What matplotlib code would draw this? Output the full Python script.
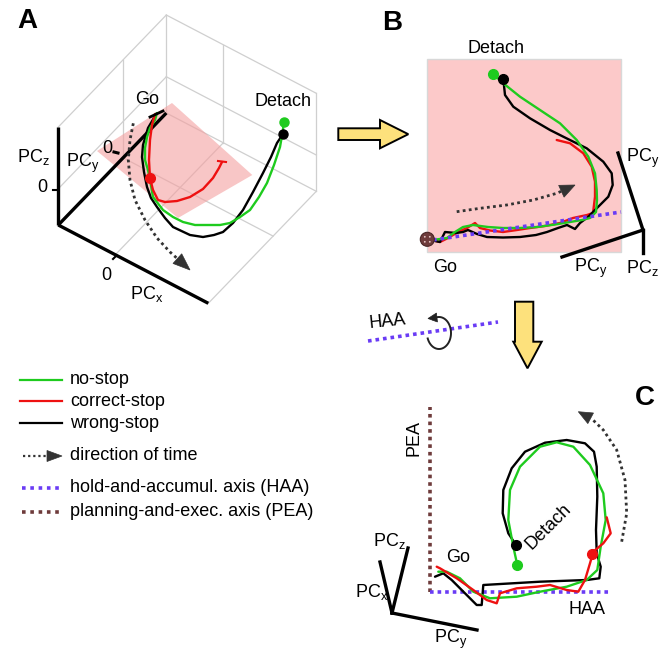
import numpy as np
import matplotlib
matplotlib.use('Agg')
import matplotlib.pyplot as plt
from matplotlib.patches import Polygon, Rectangle, Circle

plt.rcParams['font.family'] = ['Liberation Sans', 'DejaVu Sans']
plt.rcParams['mathtext.fontset'] = 'custom'
plt.rcParams['mathtext.rm'] = 'Liberation Sans'
plt.rcParams['mathtext.it'] = 'Liberation Sans'

GREEN = '#1ecb1e'
RED = '#ee1111'
BLACK = '#000000'
BLUE = '#6a3cf5'
BROWN = '#6e3b3b'
ARROW = '#333333'
YELLOW = '#fde17c'

# ---- panel A: 3d view (page coordinates, y down) ----
a_black = [(156.7, 113.3), (148, 128), (143, 145), (142, 157), (144, 172), (147, 187),
           (151, 198), (157, 207), (165, 218), (173, 227), (190, 235), (203, 237), (214, 235),
           (223, 232), (233, 223), (243, 210), (253, 192), (263, 173), (271, 157),
           (277, 143), (283, 134)]
a_green = [(157, 113), (155, 120), (150, 128), (147, 137), (145, 148), (145, 160), (148, 170),
           (150, 180), (153, 197), (163, 210), (173, 217), (183, 222), (195, 225), (207, 225),
           (220, 225), (230, 223), (240, 217), (250, 210), (259, 197), (267, 183), (274, 165),
           (280, 147), (283, 130), (283.5, 122)]
a_red = [(155, 114), (152, 125), (150, 140), (149, 160), (150, 178), (153, 190), (158, 200),
         (165, 202), (177, 201), (190, 197), (203, 189), (213, 178), (219, 168), (222, 162)]
a_time = [(133.3, 123.3), (130, 140), (128.3, 160), (130, 180), (135, 200),
          (145, 220), (157, 238), (170, 252), (180, 261)]
a_time_tip = (190, 270)
a_stop = (150, 178)

# ---- panel B: projection on the plane ----
b_black = [(430, 240), (440, 242), (445, 232), (456, 233), (463, 232), (468, 230), (477, 234),
           (487, 237), (503, 237.5), (520, 237), (536, 235), (547, 232), (558, 228), (567, 225),
           (575, 229), (580, 223), (588.3, 216.7), (598.3, 206.7), (608.3, 196.7), (612.7, 185),
           (611.7, 173.3), (603.3, 161.7), (586.7, 148.3), (563.3, 136.7), (550, 130),
           (530, 118.3), (513.3, 106.7), (505, 95), (503.3, 79)]
b_green = [(431.7, 240), (440, 239), (447, 238), (455, 232), (463, 227), (473, 225), (488, 227),
           (503, 228), (520, 228), (537, 227), (555, 224.5), (570, 222), (582, 220), (590, 218),
           (596, 212), (597, 200), (596.7, 190), (595, 173.3), (588.3, 156.7), (576.7, 140),
           (560, 123.3), (540, 110), (520, 96.7), (503.3, 83.3), (493.3, 74)]
b_red = [(431.7, 240), (440, 242), (447, 238.5), (453, 235), (460, 231), (467, 228), (475, 223),
         (480, 228), (490, 230.5), (503, 232), (517, 230), (530, 228), (545, 226), (560, 223),
         (573, 218), (587, 215), (593, 213), (594, 205), (595, 196.7), (595, 181.7),
         (591.7, 166.7), (583.3, 153.3), (570, 143.3), (556.7, 140)]
b_time = [(456.7, 211.7), (480, 208.3), (506.7, 205), (533.3, 200), (556.7, 193.3), (563, 190.5)]
b_time_tip = (575, 185)
b_haa = [(433, 240), (621, 212)]

# ---- panel C: rotated about HAA ----
c_black = [(435, 576.7), (443.3, 573.3), (451.7, 580), (465, 593.3), (476.7, 605), (481.7, 605),
           (483.3, 585), (540, 581.7), (586.7, 580), (599.3, 578.3), (600.7, 566.7), (596.7, 553.3),
           (596, 530), (597.3, 496.7), (596.7, 466.7), (594, 451.7), (585, 443.3), (566.7, 440),
           (545, 442.7), (525, 451.7), (511.7, 468.3), (503.3, 490), (502.7, 513.3),
           (508.3, 533.3), (516, 545)]
c_green = [(438.3, 571.7), (446.7, 571.7), (460, 578.3), (473.3, 591.7), (490, 598.3),
           (516.7, 596.7), (540, 591.7), (566.7, 586.7), (586.7, 580), (597.3, 570),
           (600.7, 546.7), (605.7, 520), (603.3, 493.3), (590, 465), (573.3, 446.7),
           (556.7, 442.3), (540, 446.7), (520, 466.7), (510, 490), (508.3, 520),
           (513.3, 546.7), (517.3, 565)]
c_red = [(436.7, 566.7), (440, 568.3), (456.7, 578.3), (473.3, 590), (486.7, 600), (496.7, 603.3),
         (500, 593.3), (516.7, 588.3), (536.7, 586.7), (550, 585), (566.7, 590), (578.3, 591.7),
         (585, 580), (590, 563.3), (593.3, 551.7), (603.3, 543.3), (610.7, 533.3), (606.7, 517.3)]
c_time = [(621.7, 541.7), (626.7, 513.3), (625, 480), (616.7, 450), (603.3, 430), (592, 419)]
c_time_tip = (578.3, 411.7)
c_haa = [(430, 592), (610, 592)]
c_pea = [(430, 592), (430, 407)]

legend_labels = ['no-stop', 'correct-stop', 'wrong-stop', 'direction of time',
                 'hold-and-accumul. axis (HAA)', 'planning-and-exec. axis (PEA)']
legend_y = [379.5, 401, 423, 456, 488, 512]


def xy(pts):
    p = np.array(pts, dtype=float)
    return p[:, 0], p[:, 1]


def head(ax, p0, p1, length, width, color, z=6):
    p0 = np.array(p0, float)
    p1 = np.array(p1, float)
    d = (p1 - p0) / np.linalg.norm(p1 - p0)
    n = np.array([-d[1], d[0]])
    base = p1 - d * length
    tri = [p1, base + n * width / 2, base - n * width / 2]
    ax.add_patch(Polygon(tri, closed=True, facecolor=color, edgecolor=color, lw=0.5, zorder=z))


def traj(ax, pts, color, lw=1.7, z=4):
    x, y = xy(pts)
    ax.plot(x, y, color=color, lw=lw, solid_joinstyle='round', solid_capstyle='round', zorder=z)


fig = plt.figure(figsize=(6.6, 6.55), dpi=100)
ax = fig.add_axes([0, 0, 1, 1])
ax.set_xlim(0, 660)
ax.set_ylim(655, 0)
ax.axis('off')

FS = 13

# ---------- A ----------
O = np.array([58.3, 225.0])
EX = np.array([150.0, 78.3])
EY = np.array([108.0, -112.0])
EZ = np.array([0.0, -98.0])


def proj(a, b, c):
    return O + a * EX + b * EY + c * EZ


box_edges = [((0, 0, 1), (0, 1, 1)), ((0, 1, 1), (1, 1, 1)), ((1, 1, 1), (1, 1, 0)),
             ((1, 1, 0), (1, 0, 0)), ((0, 1, 0), (0, 1, 1)), ((0, 1, 0), (1, 1, 0)),
             ((0, 0, 0), (0, 1, 0))]
gx, gy, gz = 0.38, 0.6, 0.37
grid_edges = [((gx, 0, 0), (gx, 1, 0)), ((gx, 1, 0), (gx, 1, 1)),
              ((0, gy, 0), (1, gy, 0)), ((0, gy, 0), (0, gy, 1)),
              ((0, 0, gz), (0, 1, gz)), ((0, 1, gz), (1, 1, gz))]
for p, q in box_edges + grid_edges:
    a, b = proj(*p), proj(*q)
    ax.plot([a[0], b[0]], [a[1], b[1]], color='#cfcfcf', lw=0.9, zorder=1)

plane = [(172, 103), (252.3, 175), (178, 218), (97, 151)]
ax.add_patch(Polygon(plane, closed=True, facecolor='#f4a0a0', alpha=0.6, lw=0, zorder=2))

for q in [(1, 0, 0), (0, 1, 0), (0, 0, 1)]:
    a, b = proj(0, 0, 0), proj(*q)
    ax.plot([a[0], b[0]], [a[1], b[1]], color='black', lw=2.4, solid_capstyle='butt', zorder=3)

# zero ticks
ax.plot([53, 58.3], [190, 190], color='black', lw=1.5, zorder=3)
ax.plot([114, 118], [152, 153], color='black', lw=2.2, zorder=3)
ax.plot([113, 116], [259, 256], color='black', lw=1.5, zorder=3)

x, y = xy(a_time)
ax.plot(x, y, color=ARROW, lw=2, ls=(0, (1, 1.2)), zorder=3)
head(ax, a_time[-1], a_time_tip, 17, 13, ARROW)

traj(ax, a_black, BLACK, z=4)
traj(ax, a_green, GREEN, z=5)
traj(ax, a_red, RED, z=6)
ax.plot([218, 226], [161, 162], color=RED, lw=1.5, zorder=6)
ax.plot(*a_stop, 'o', color=RED, ms=7, zorder=7)
ax.plot(a_green[-1][0], a_green[-1][1], 'o', color=GREEN, ms=6.5, zorder=7)
ax.plot(a_black[-1][0], a_black[-1][1], 'o', color=BLACK, ms=6.5, zorder=7)
ax.plot([150, 163], [117, 111], color='black', lw=2, zorder=6)

ax.text(27, 21, 'A', fontsize=20, fontweight='bold', ha='center', va='center')
ax.text(147.3, 99, 'Go', fontsize=FS, ha='center', va='center')
ax.text(282.7, 101.7, 'Detach', fontsize=FS, ha='center', va='center')
ax.text(33, 157, r'PC$_\mathrm{z}$', fontsize=FS, ha='center', va='center')
ax.text(83, 163, r'PC$_\mathrm{y}$', fontsize=FS, ha='center', va='center')
ax.text(147, 294, r'PC$_\mathrm{x}$', fontsize=FS, ha='center', va='center')
ax.text(42, 188, '0', fontsize=FS, ha='center', va='center')
ax.text(107.5, 148.5, '0', fontsize=FS, ha='center', va='center')
ax.text(106, 276, '0', fontsize=FS, ha='center', va='center')

# ---------- B ----------
ax.add_patch(Rectangle((427, 59), 194, 193, facecolor='#fcc9c9', edgecolor='#d8d8d8', lw=1, zorder=1))
ax.add_patch(Polygon([(338.3, 128.3), (380, 128.3), (380, 120), (408.3, 134.2), (380, 148.3),
                      (380, 140), (338.3, 140)], closed=True, facecolor=YELLOW,
                     edgecolor='black', lw=1.4, zorder=2))

x, y = xy(b_haa)
ax.plot(x, y, color=BLUE, lw=2.6, ls=(0, (1, 1.1)), zorder=5)
x, y = xy(b_time)
ax.plot(x, y, color=ARROW, lw=2, ls=(0, (1, 1.2)), zorder=3)
head(ax, b_time[-1], b_time_tip, 15, 13, ARROW)

traj(ax, b_red, RED, z=4)
traj(ax, b_black, BLACK, z=4)
traj(ax, b_green, GREEN, z=4)
ax.plot(b_green[-1][0], b_green[-1][1], 'o', color=GREEN, ms=7, zorder=7)
ax.plot(b_black[-1][0], b_black[-1][1], 'o', color=BLACK, ms=7, zorder=7)

ax.add_patch(Circle((427.3, 239.3), 7, facecolor=BROWN, edgecolor='#4a2626', lw=0.8, zorder=8))
for dx, dy in [(-2.5, -2.5), (2.5, -2.5), (-2.5, 2.5), (2.5, 2.5)]:
    ax.add_patch(Circle((427.3 + dx, 239.3 + dy), 0.9, facecolor='#e8c8c8', lw=0, zorder=9))

# axes of panel B
ax.plot([618, 643], [153, 230], color='black', lw=2.4, zorder=3)
ax.plot([643, 643], [230, 253], color='black', lw=2.4, zorder=3)
ax.plot([643, 562], [230, 257], color='black', lw=2.4, zorder=3)

ax.text(391.7, 23.3, 'B', fontsize=20, fontweight='bold', ha='center', va='center')
ax.text(496, 48.3, 'Detach', fontsize=FS, ha='center', va='center')
ax.text(445, 267, 'Go', fontsize=FS, ha='center', va='center')
ax.text(591, 268, r'PC$_\mathrm{y}$', fontsize=FS, ha='center', va='center')
ax.text(659, 268, r'PC$_\mathrm{z}$', fontsize=FS, ha='right', va='center')
ax.text(659, 158, r'PC$_\mathrm{y}$', fontsize=FS, ha='right', va='center')

# ---------- rotation about HAA ----------
ax.plot([368, 498], [341, 322], color=BLUE, lw=2.6, ls=(0, (1, 1.1)), zorder=2)
ax.text(387, 322, 'HAA', fontsize=FS, ha='center', va='center', rotation=6)
t = np.radians(np.linspace(200, 480, 80))
cx, cy, rx, ry = 439, 333, 12, 16
ax.plot(cx + rx * np.cos(t), cy - ry * np.sin(t), color='#222222', lw=1.4, zorder=3)
head(ax, (437, 317.5), (428, 318.5), 9, 9, '#222222')

ax.add_patch(Polygon([(515, 301.7), (533.3, 301.7), (533.3, 341.7), (541.7, 341.7), (527.5, 368.3),
                      (513.3, 341.7), (515, 341.7)], closed=True, facecolor=YELLOW,
                     edgecolor='black', lw=1.4, zorder=2))

# ---------- C ----------
x, y = xy(c_pea)
ax.plot(x, y, color=BROWN, lw=2.6, ls=(0, (1, 1.1)), zorder=2)
x, y = xy(c_haa)
ax.plot(x, y, color=BLUE, lw=2.6, ls=(0, (1, 1.1)), zorder=2)
x, y = xy(c_time)
ax.plot(x, y, color=ARROW, lw=2, ls=(0, (1, 1.2)), zorder=3)
head(ax, c_time[-1], c_time_tip, 14, 12, ARROW)

traj(ax, c_black, BLACK, z=4)
traj(ax, c_green, GREEN, z=5)
traj(ax, c_red, RED, z=6)
ax.plot(516, 545, 'o', color=BLACK, ms=7, zorder=7)
ax.plot(517.3, 565, 'o', color=GREEN, ms=7, zorder=7)
ax.plot(592, 554, 'o', color=RED, ms=7, zorder=7)

ax.plot([408, 392], [548, 613], color='black', lw=2.4, zorder=3)
ax.plot([380, 392], [562, 613], color='black', lw=2.4, zorder=3)
ax.plot([392, 477], [613, 630], color='black', lw=2.4, zorder=3)

ax.text(645, 398, 'C', fontsize=20, fontweight='bold', ha='center', va='center')
ax.text(414, 438, 'PEA', fontsize=FS, ha='center', va='center', rotation=90)
ax.text(458, 557, 'Go', fontsize=FS, ha='center', va='center')
ax.text(548, 527, 'Detach', fontsize=FS, ha='center', va='center', rotation=45)
ax.text(587, 610, 'HAA', fontsize=FS, ha='center', va='center')
ax.text(389, 541, r'PC$_\mathrm{z}$', fontsize=FS, ha='center', va='center')
ax.text(372, 592, r'PC$_\mathrm{x}$', fontsize=FS, ha='center', va='center')
ax.text(451, 639, r'PC$_\mathrm{y}$', fontsize=FS, ha='center', va='center')

# ---------- legend ----------
for yy, c in zip(legend_y[:3], [GREEN, RED, BLACK]):
    ax.plot([20, 62], [yy, yy], color=c, lw=1.6, zorder=3)
ax.plot([23, 47], [legend_y[3]] * 2, color=ARROW, lw=1.6, ls=(0, (1, 1.3)), zorder=3)
head(ax, (47, legend_y[3]), (62, legend_y[3]), 15, 11, ARROW)
ax.plot([22, 59], [legend_y[4]] * 2, color=BLUE, lw=2.6, ls=(0, (1, 1.3)), zorder=3)
ax.plot([22, 59], [legend_y[5]] * 2, color=BROWN, lw=2.6, ls=(0, (1, 1.3)), zorder=3)
for yy, lab in zip(legend_y, legend_labels):
    ax.text(70, yy, lab, fontsize=FS, ha='left', va='center')

fig.savefig('out.png', dpi=100)
